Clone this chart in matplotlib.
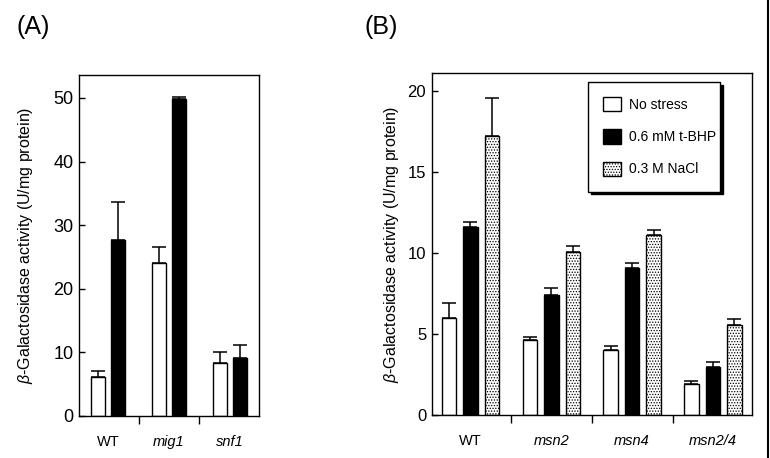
import numpy as np
import matplotlib
matplotlib.use("Agg")
import matplotlib.pyplot as plt
from matplotlib.patches import Patch
from matplotlib.lines import Line2D

plt.rcParams['font.family'] = ['Liberation Sans', 'DejaVu Sans']
plt.rcParams['mathtext.fontset'] = 'custom'
plt.rcParams['mathtext.rm'] = 'Liberation Sans'
plt.rcParams['mathtext.it'] = 'Liberation Sans:italic'
plt.rcParams['hatch.linewidth'] = 0.6

# panel A data
strains_a = ["WT", "mig1", "snf1"]
a_nostress = [6.2, 24.0, 8.3]
a_nostress_err = [0.8, 2.6, 1.7]
a_tbhp = [27.7, 49.8, 9.1]
a_tbhp_err = [5.9, 0.3, 2.0]

# panel B data
strains_b = ["WT", "msn2", "msn4", "msn2/4"]
b_nostress = [6.0, 4.6, 4.0, 1.9]
b_nostress_err = [0.9, 0.2, 0.25, 0.2]
b_tbhp = [11.6, 7.4, 9.1, 2.97]
b_tbhp_err = [0.3, 0.42, 0.27, 0.27]
b_nacl = [17.2, 10.05, 11.1, 5.55]
b_nacl_err = [2.35, 0.36, 0.33, 0.35]

series_labels = ["No stress", "0.6 mM t-BHP", "0.3 M NaCl"]
ylabel = r"$\it{\beta}$-Galactosidase activity (U/mg protein)"


def draw_bars(ax, x, vals, errs, width, style):
    ax.bar(x, vals, width, edgecolor="black", linewidth=1.0, zorder=2, **style)
    ax.errorbar(x, vals, yerr=[np.zeros(len(vals)), errs], fmt="none",
                ecolor="black", elinewidth=1.1, capsize=5, capthick=1.1, zorder=1)


def setup_axis(ax, n, labels, ytick_size):
    ax.set_xlim(-0.48, n - 0.52)
    ax.set_xticks(np.arange(n - 1) + 0.5)
    ax.set_xticklabels([])
    ax.tick_params(axis="x", which="major", direction="out", length=6, width=1)
    ax.set_xticks(np.arange(n), minor=True)
    ax.set_xticklabels(labels, minor=True, fontsize=10.5)
    ax.tick_params(axis="x", which="minor", length=0, pad=14)
    # mutant names in italics
    for i, t in enumerate(ax.get_xticklabels(minor=True)):
        if i > 0:
            t.set_style("italic")
    ax.tick_params(axis="y", direction="in", length=4, width=1,
                   labelsize=ytick_size, pad=4)
    for s in ax.spines.values():
        s.set_linewidth(1.0)
    ax.set_ylabel(ylabel, fontsize=11.5)


fig = plt.figure(figsize=(7.7, 4.58), dpi=100)

white = dict(color="white")
black = dict(color="black")
dotted = dict(color="white", hatch="......")

# (A)
ax_a = fig.add_axes([79 / 770, 1 - 416 / 458, 180 / 770, 341 / 458])
xa = np.arange(len(strains_a))
draw_bars(ax_a, xa - 0.166, a_nostress, a_nostress_err, 0.23, white)
draw_bars(ax_a, xa + 0.166, a_tbhp, a_tbhp_err, 0.23, black)
ax_a.set_ylim(0, 53.6)
ax_a.set_yticks([0, 10, 20, 30, 40, 50])
setup_axis(ax_a, len(strains_a), strains_a, 13)
ax_a.yaxis.set_label_coords(-0.244, 0.5)

# (B)
ax_b = fig.add_axes([431.7 / 770, 1 - 415 / 458, 320 / 770, 342 / 458])
xb = np.arange(len(strains_b))
draw_bars(ax_b, xb - 0.266, b_nostress, b_nostress_err, 0.18, white)
draw_bars(ax_b, xb, b_tbhp, b_tbhp_err, 0.18, black)
draw_bars(ax_b, xb + 0.266, b_nacl, b_nacl_err, 0.18, dotted)
ax_b.set_ylim(0, 21.1)
ax_b.set_yticks([0, 5, 10, 15, 20])
setup_axis(ax_b, len(strains_b), strains_b, 12)
ax_b.yaxis.set_label_coords(-0.096, 0.5)

handles = [Patch(facecolor="white", edgecolor="black", linewidth=1.0),
           Patch(facecolor="black", edgecolor="black", linewidth=1.0),
           Patch(facecolor="white", edgecolor="black", hatch="......", linewidth=1.0)]
leg = ax_b.legend(handles, series_labels, loc="upper left",
                  bbox_to_anchor=(0.488, 0.974, 0.413, 0.0), mode="expand",
                  borderaxespad=0.0,
                  fontsize=10, handlelength=1.3, handleheight=1.2,
                  labelspacing=1.25, handletextpad=0.55, borderpad=1.1,
                  fancybox=False, framealpha=1,
                  shadow={"color": "black", "alpha": 1.0})
leg.get_frame().set_edgecolor("black")
leg.get_frame().set_linewidth(1.0)

fig.text(16 / 770, 1 - 27 / 458, "(A)", fontsize=18, va="center", ha="left")
fig.text(365 / 770, 1 - 27 / 458, "(B)", fontsize=18, va="center", ha="left")
fig.add_artist(Line2D([768 / 770, 768 / 770], [0, 1], color="black", linewidth=1.5))

fig.savefig("out.png", dpi=100)
